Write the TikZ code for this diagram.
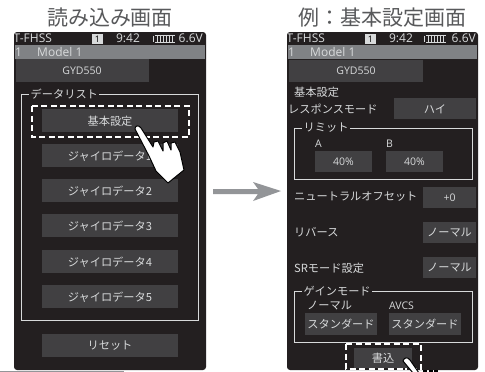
\documentclass[tikz,border=0pt]{standalone}
\usepackage{fontspec}
\setmainfont{Noto Sans CJK JP}
\newfontfamily\latinf{Open Sans}
\definecolor{scr}{HTML}{231F20}
\definecolor{btn}{HTML}{414042}
\definecolor{bar}{HTML}{808285}
\definecolor{txt}{HTML}{D8DADB}
\definecolor{ttl}{HTML}{58595B}
\definecolor{arr}{HTML}{939598}
\tikzset{
 screen/.style={fill=scr,rounded corners=3pt,draw=none},
 btnbox/.style={fill=btn,draw=none},
 lab/.style={text=txt,inner sep=0pt,font=\fontsize{11.2}{11.2}\selectfont},
 lat/.style={text=txt,inner sep=0pt,font=\latinf\fontsize{10.5}{10.5}\selectfont},
 stat/.style={text=txt,inner sep=0pt,font=\latinf\fontsize{12}{12}\selectfont},
 title/.style={text=ttl,inner sep=0pt,font=\fontsize{21}{21}\selectfont},
 grp/.style={draw=txt,line width=0.8pt},
 dashbox/.style={draw=white,line width=1.8pt,dash pattern=on 6pt off 3.5pt},
 hand/.style={fill=white,draw=black,line width=1pt,line join=round},
 glabel/.style={text=txt,inner sep=1.5pt,fill=scr,font=\fontsize{11.2}{11.2}\selectfont}
}
\begin{document}
\begin{tikzpicture}[x=1pt,y=-1pt]
\useasboundingbox (0,0) rectangle (485,372);
\fill[white] (0,0) rectangle (485,372);
% titles
\node[title] (t1) at (110,18) {読み込み画面};
\node[title] (t2) at (382.5,18) {例：基本設定画面};
% left screen
\fill[screen] (14,32) rectangle (206,370);
\fill[bar] (15,45) rectangle (205,59);
\begin{scope}
\clip (15,32) rectangle (60,45);
\node[stat,anchor=west] at (13.5,38.5) {T-FHSS};
\end{scope}
\fill[txt] (92,34) rectangle (103,44);
\node[lat,text=black,font=\latinf\fontsize{9}{9}\selectfont] at (97.5,39) {1};
\node[stat] at (128,38.5) {9:42};
\node[stat,anchor=east] at (203,38.5) {6.6V};
\foreach \i in {0,...,5}{\fill[txt] (156.5+\i*3,35) rectangle (158.3+\i*3,42.5);}
\draw[txt,line width=.5pt] (153,35.5) -- (153,42) (155,35) -- (175,35) (155,42.7) -- (175,42.7);
\node[stat,anchor=west] at (15,52) {1};
\node[stat,anchor=west] at (37,52) {Model 1};
\fill[btnbox] (16,59) rectangle (149,82);
\node[lat] at (82,71) {GYD550};
\draw[grp] (21.5,94) rectangle (198.5,320);
\node[glabel,anchor=west] at (29,94) {データリスト};
\fill[btnbox] (42,109) rectangle (178,132);
\node[lab] at (110,121) {基本設定};
\fill[btnbox] (42,144) rectangle (178,167);
\node[lab] at (110,156) {ジャイロデータ1};
\fill[btnbox] (42,179) rectangle (178,202);
\node[lab] at (110,191) {ジャイロデータ2};
\fill[btnbox] (42,214) rectangle (178,237);
\node[lab] at (110,226) {ジャイロデータ3};
\fill[btnbox] (42,250) rectangle (178,273);
\node[lab] at (110,262) {ジャイロデータ4};
\fill[btnbox] (42,285) rectangle (178,308);
\node[lab] at (110,297) {ジャイロデータ5};
\fill[btnbox] (42,334) rectangle (178,357);
\node[lab] at (110,346) {リセット};
\draw[dashbox] (32,106) rectangle (189,137);
% hand left
\draw[hand] (135,129) .. controls (135,125) and (139,125) .. (141,128) -- (153,147) -- (154,142) -- (158,141) -- (163,151) -- (163,143) -- (167,141) -- (171,150) -- (171,143) -- (175,142) -- (180,152) -- (184,170) -- (168,183) -- (156,171) -- (149,156) -- cycle;
% bottom line
\draw[arr,line width=.8pt] (0,371) -- (124,371);
% arrow
\fill[arr] (213,189) -- (258,189) -- (253,182) -- (281,191) -- (253,201) -- (258,194) -- (213,194) -- cycle;
% right screen
\fill[screen] (287,32) rectangle (478,370);
\fill[bar] (288,45) rectangle (477,59);
\begin{scope}
\clip (288,32) rectangle (333,45);
\node[stat,anchor=west] at (286.5,38.5) {T-FHSS};
\end{scope}
\fill[txt] (365,34) rectangle (376,44);
\node[lat,text=black,font=\latinf\fontsize{9}{9}\selectfont] at (370.5,39) {1};
\node[stat] at (401,38.5) {9:42};
\node[stat,anchor=east] at (476,38.5) {6.6V};
\foreach \i in {0,...,5}{\fill[txt] (427.5+\i*3,35) rectangle (429.3+\i*3,42.5);}
\draw[txt,line width=.5pt] (424,35.5) -- (424,42) (426,35) -- (446,35) (426,42.7) -- (446,42.7);
\node[stat,anchor=west] at (288,52) {1};
\node[stat,anchor=west] at (310,52) {Model 1};
\fill[btnbox] (289,60) rectangle (423,82);
\node[lat] at (356,71) {GYD550};
\node[lab,anchor=west] at (294,92) {基本設定};
\node[lab,anchor=west] at (288,109) {レスポンスモード};
\fill[btnbox] (394,98) rectangle (476,119);
\node[lab] at (435,109) {ハイ};
\draw[grp] (294,128) rectangle (472,179);
\node[glabel,anchor=west] at (302,128) {リミット};
\node[lat,anchor=west] at (315,144) {A};
\node[lat,anchor=west] at (386,144) {B};
\fill[btnbox] (315,151) rectangle (372,172);
\node[lat] at (343.5,162) {40\%};
\fill[btnbox] (386,151) rectangle (443,172);
\node[lat] at (414.5,162) {40\%};
\node[lab,anchor=west] at (294,197) {ニュートラルオフセット};
\fill[btnbox] (423,187) rectangle (476,208);
\node[lat] at (449.5,197.5) {+0};
\node[lab,anchor=west] at (294,232) {リバース};
\fill[btnbox] (423,222) rectangle (476,243);
\node[lab] at (449.5,232.5) {ノーマル};
\node[lab,anchor=west] at (294,268) {SRモード設定};
\fill[btnbox] (423,257) rectangle (476,278);
\node[lab] at (449.5,267.5) {ノーマル};
\draw[grp] (294,291) rectangle (472,342);
\node[glabel,anchor=west] at (302,291) {ゲインモード};
\node[lab,anchor=west] at (307,306) {ノーマル};
\node[lat,anchor=west] at (389,306) {AVCS};
\fill[btnbox] (305,313) rectangle (377,335);
\node[lab] at (341,324) {スタンダード};
\fill[btnbox] (389,313) rectangle (461,335);
\node[lab] at (425,324) {スタンダード};
\fill[btnbox] (354,348) rectangle (412,368);
\node[lab] at (383,358) {書込};
\draw[dashbox] (346,344) -- (421,344) -- (421,369) -- (405,369);
\draw[dashbox] (346,344) -- (346,369) -- (405,369);
% hand right
\draw[hand] (403,361) .. controls (404,357) and (408,357) .. (410,360) -- (419,373) -- (413,373) -- cycle;
\foreach \i in {0,1,2}{\fill[black] (423+\i*5.5,370) rectangle (427+\i*5.5,372);}
\end{tikzpicture}
\end{document}
